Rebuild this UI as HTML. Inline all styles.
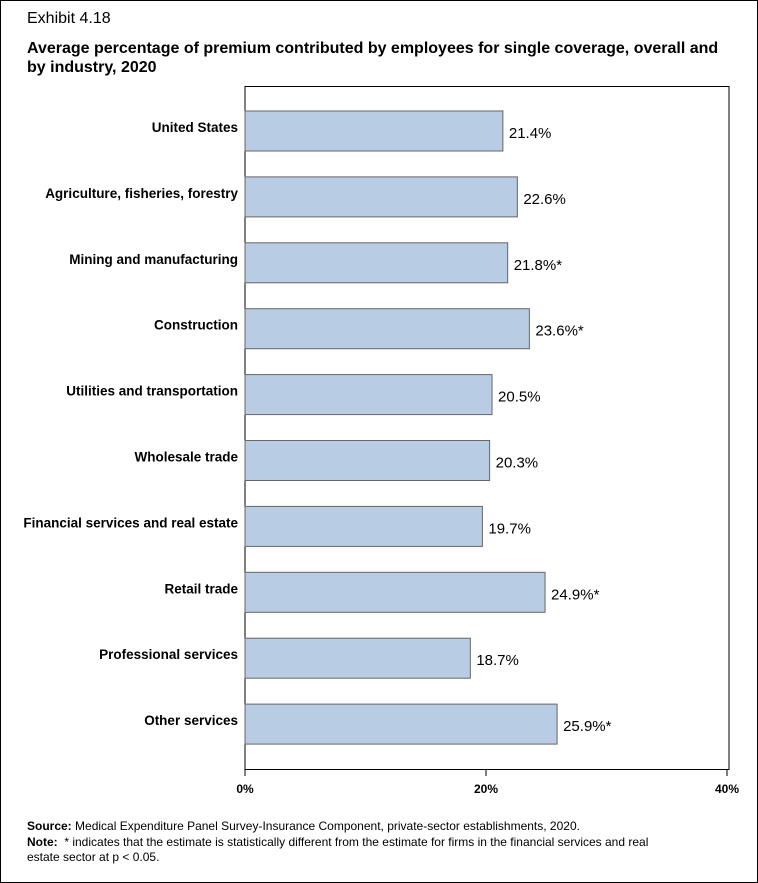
<!DOCTYPE html>
<html><head><meta charset="utf-8"><style>
body{margin:0;background:#fff;font-family:"Liberation Sans",Arial,sans-serif;}
#wrap{position:relative;width:756px;height:881px;border:1px solid #000;overflow:hidden;}
.t{position:absolute;left:26px;font-size:16px;color:#000;}
.f{position:absolute;left:26px;font-size:12px;color:#000;}
</style></head><body>
<div id="wrap">
<div class="t" style="top:9px">Exhibit 4.18</div>
<div class="t" style="top:38px;font-weight:bold;line-height:19px;width:700px">Average percentage of premium contributed by employees for single coverage, overall and by industry, 2020</div>
<svg id="chart" width="758" height="800" style="position:absolute;left:-1px;top:-1px"></svg>
<div class="f" style="top:818px"><b>Source:</b> Medical Expenditure Panel Survey-Insurance Component, private-sector establishments, 2020.</div>
<div class="f" style="top:834px;width:650px;line-height:15px"><b>Note:</b>&nbsp; * indicates that the estimate is statistically different from the estimate for firms in the financial services and real estate sector at p &lt; 0.05.</div>
</div>
<script>
const categories=["United States","Agriculture, fisheries, forestry","Mining and manufacturing","Construction","Utilities and transportation","Wholesale trade","Financial services and real estate","Retail trade","Professional services","Other services"];
const values=[21.4,22.6,21.8,23.6,20.5,20.3,19.7,24.9,18.7,25.9];
const flags=["","","*","*","","","","*","","*"];
const ticks=[0,20,40];
const NS="http://www.w3.org/2000/svg";
const svg=document.getElementById('chart');
const x0=245,pxPer=12.05,top0=111,step=65.9,bh=40;
const xs=v=>x0+v*pxPer;
const yc=i=>top0+i*step;
function mk(t,a){const e=document.createElementNS(NS,t);for(const k in a)e.setAttribute(k,a[k]);svg.appendChild(e);return e;}
const box=mk('rect',{x:245,y:86.5,width:484,height:683,fill:'none',stroke:'#000','stroke-width':1});


ticks.forEach(t=>{
 const l=mk('line',{x1:xs(t),x2:xs(t),y1:770,y2:776,stroke:'#000'});
 
 
 const tx=mk('text',{x:xs(t),y:793,'text-anchor':'middle','font-size':12,'font-weight':'bold','font-family':'Liberation Sans, sans-serif'});
 tx.textContent=t+'%';
 
 
});
categories.forEach((c,i)=>{
 const y=yc(i);
 const r=mk('rect',{x:x0,y:y,width:xs(values[i])-x0,height:bh,fill:'#b8cce4',stroke:'#666','stroke-width':1});
 
 
 const lab=mk('text',{x:238,y:y+bh/2+1,'text-anchor':'end','font-size':13.5,'font-weight':'bold','font-family':'Liberation Sans, sans-serif'});
 lab.textContent=c;
 
 
 const v=mk('text',{x:xs(values[i])+6,y:y+bh/2+7,'font-size':15,'font-family':'Liberation Sans, sans-serif'});
 v.textContent=values[i].toFixed(1)+'%'+flags[i];
 
 
});
</script>
</body></html>
